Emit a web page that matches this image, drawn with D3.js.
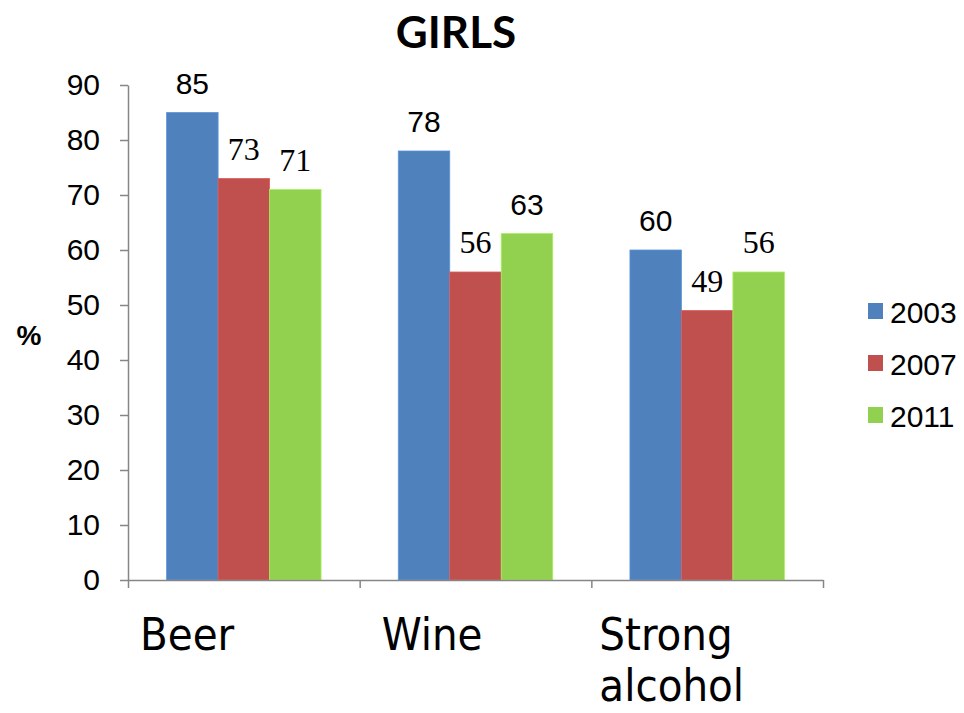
<!doctype html>
<html lang="en">
<head>
    <meta charset="utf-8">
    <title>GIRLS</title>
    <script src="https://d3js.org/d3.v7.min.js"></script>
    <style>
        body { margin: 0; background: #fff; }
        svg text { fill: #000; }
        .axis path, .axis line { stroke: #868686; stroke-width: 1.5; }
        .axis text { font: 30px "Liberation Sans", Arial, sans-serif; }
    </style>
</head>
<body>
<script>
    // Chart data
    var categories = ["Beer", "Wine", "Strong alcohol"];
    var years      = ["2003", "2007", "2011"];
    var values2003 = [85, 78, 60];
    var values2007 = [73, 56, 49];
    var values2011 = [71, 63, 56];
    var yTicks     = [0, 10, 20, 30, 40, 50, 60, 70, 80, 90];

    var colours = ["#4F81BD", "#C0504D", "#92D050"];
    // the original mixes fonts on its value labels
    var serifLabel = [[false, true, true], [false, true, false], [false, true, true]];

    var series = [values2003, values2007, values2011];

    var svg = d3.select("body").append("svg")
        .attr("width", 964)
        .attr("height", 713);

    // Scales
    var y = d3.scaleLinear().domain([0, 90]).range([580, 85]);
    var x = d3.scaleBand().domain(categories).range([128, 823]).padding(0);
    var xInner = d3.scaleBand().domain(years).range([0, x.bandwidth()])
        .paddingInner(0).paddingOuter(0.75);
    var xEdges = d3.scaleLinear().domain([0, categories.length]).range([128, 823]);

    // Title
    svg.append("text")
        .attr("x", 456).attr("y", 48)
        .attr("text-anchor", "middle")
        .style("font", "bold 44px Lato, 'Open Sans', sans-serif")
        .text("GIRLS");

    // Y axis label
    svg.append("text")
        .attr("x", 29).attr("y", 345)
        .attr("text-anchor", "middle")
        .style("font", "bold 28px 'Liberation Sans', Arial, sans-serif")
        .text("%");

    // Bars
    var group = svg.selectAll("g.cat")
        .data(categories)
        .enter().append("g")
        .attr("class", "cat")
        .attr("transform", function(d) { return "translate(" + x(d) + ",0)"; });

    group.each(function(cat, ci) {
        var g = d3.select(this);
        years.forEach(function(yr, si) {
            var v = series[si][ci];
            g.append("rect")
                .attr("x", xInner(yr))
                .attr("y", y(v))
                .attr("width", xInner.bandwidth())
                .attr("height", y(0) - y(v))
                .attr("fill", colours[si])
                .attr("stroke", d3.color(colours[si]).brighter(0.4))
                .attr("stroke-width", 0.8);

            g.append("text")
                .attr("x", xInner(yr) + xInner.bandwidth() / 2)
                .attr("y", y(v) - 19)
                .attr("text-anchor", "middle")
                .style("font", serifLabel[ci][si]
                    ? "32px 'Liberation Serif', 'Times New Roman', serif"
                    : "30px 'Liberation Sans', Arial, sans-serif")
                .text(v);
        });
    });

    // Axes
    svg.append("g")
        .attr("class", "axis")
        .attr("transform", "translate(128,0)")
        .call(d3.axisLeft(y).tickValues(yTicks).tickSize(8).tickPadding(20).tickSizeOuter(0));

    svg.append("g")
        .attr("class", "axis")
        .attr("transform", "translate(0,580)")
        .call(d3.axisBottom(xEdges).tickValues(d3.range(categories.length + 1))
            .tickSize(8).tickSizeOuter(0).tickFormat(""));

    // Category labels (wrapped)
    svg.selectAll("text.cat-label")
        .data(categories)
        .enter().append("text")
        .attr("class", "cat-label")
        .attr("x", function(d, i) { return x(d) + [12, 22, 8][i]; })
        .attr("y", 650)
        .style("font", "45px 'DejaVu Sans Condensed', Tahoma, sans-serif")
        .each(function(d) {
            var words = d.split(" ");
            var t = d3.select(this);
            var x0 = t.attr("x");
            words.forEach(function(w, wi) {
                t.append("tspan").attr("x", x0).attr("dy", wi === 0 ? 0 : 51).text(w);
            });
        });

    // Legend
    var legend = svg.selectAll("g.legend")
        .data(years)
        .enter().append("g")
        .attr("class", "legend")
        .attr("transform", function(d, i) { return "translate(868," + (303 + i * 52) + ")"; });

    legend.append("rect")
        .attr("width", 15).attr("height", 16)
        .attr("fill", function(d, i) { return colours[i]; });

    legend.append("text")
        .attr("x", 22).attr("y", 20)
        .style("font", "30px 'Liberation Sans', Arial, sans-serif")
        .text(function(d) { return d; });
</script>
</body>
</html>
